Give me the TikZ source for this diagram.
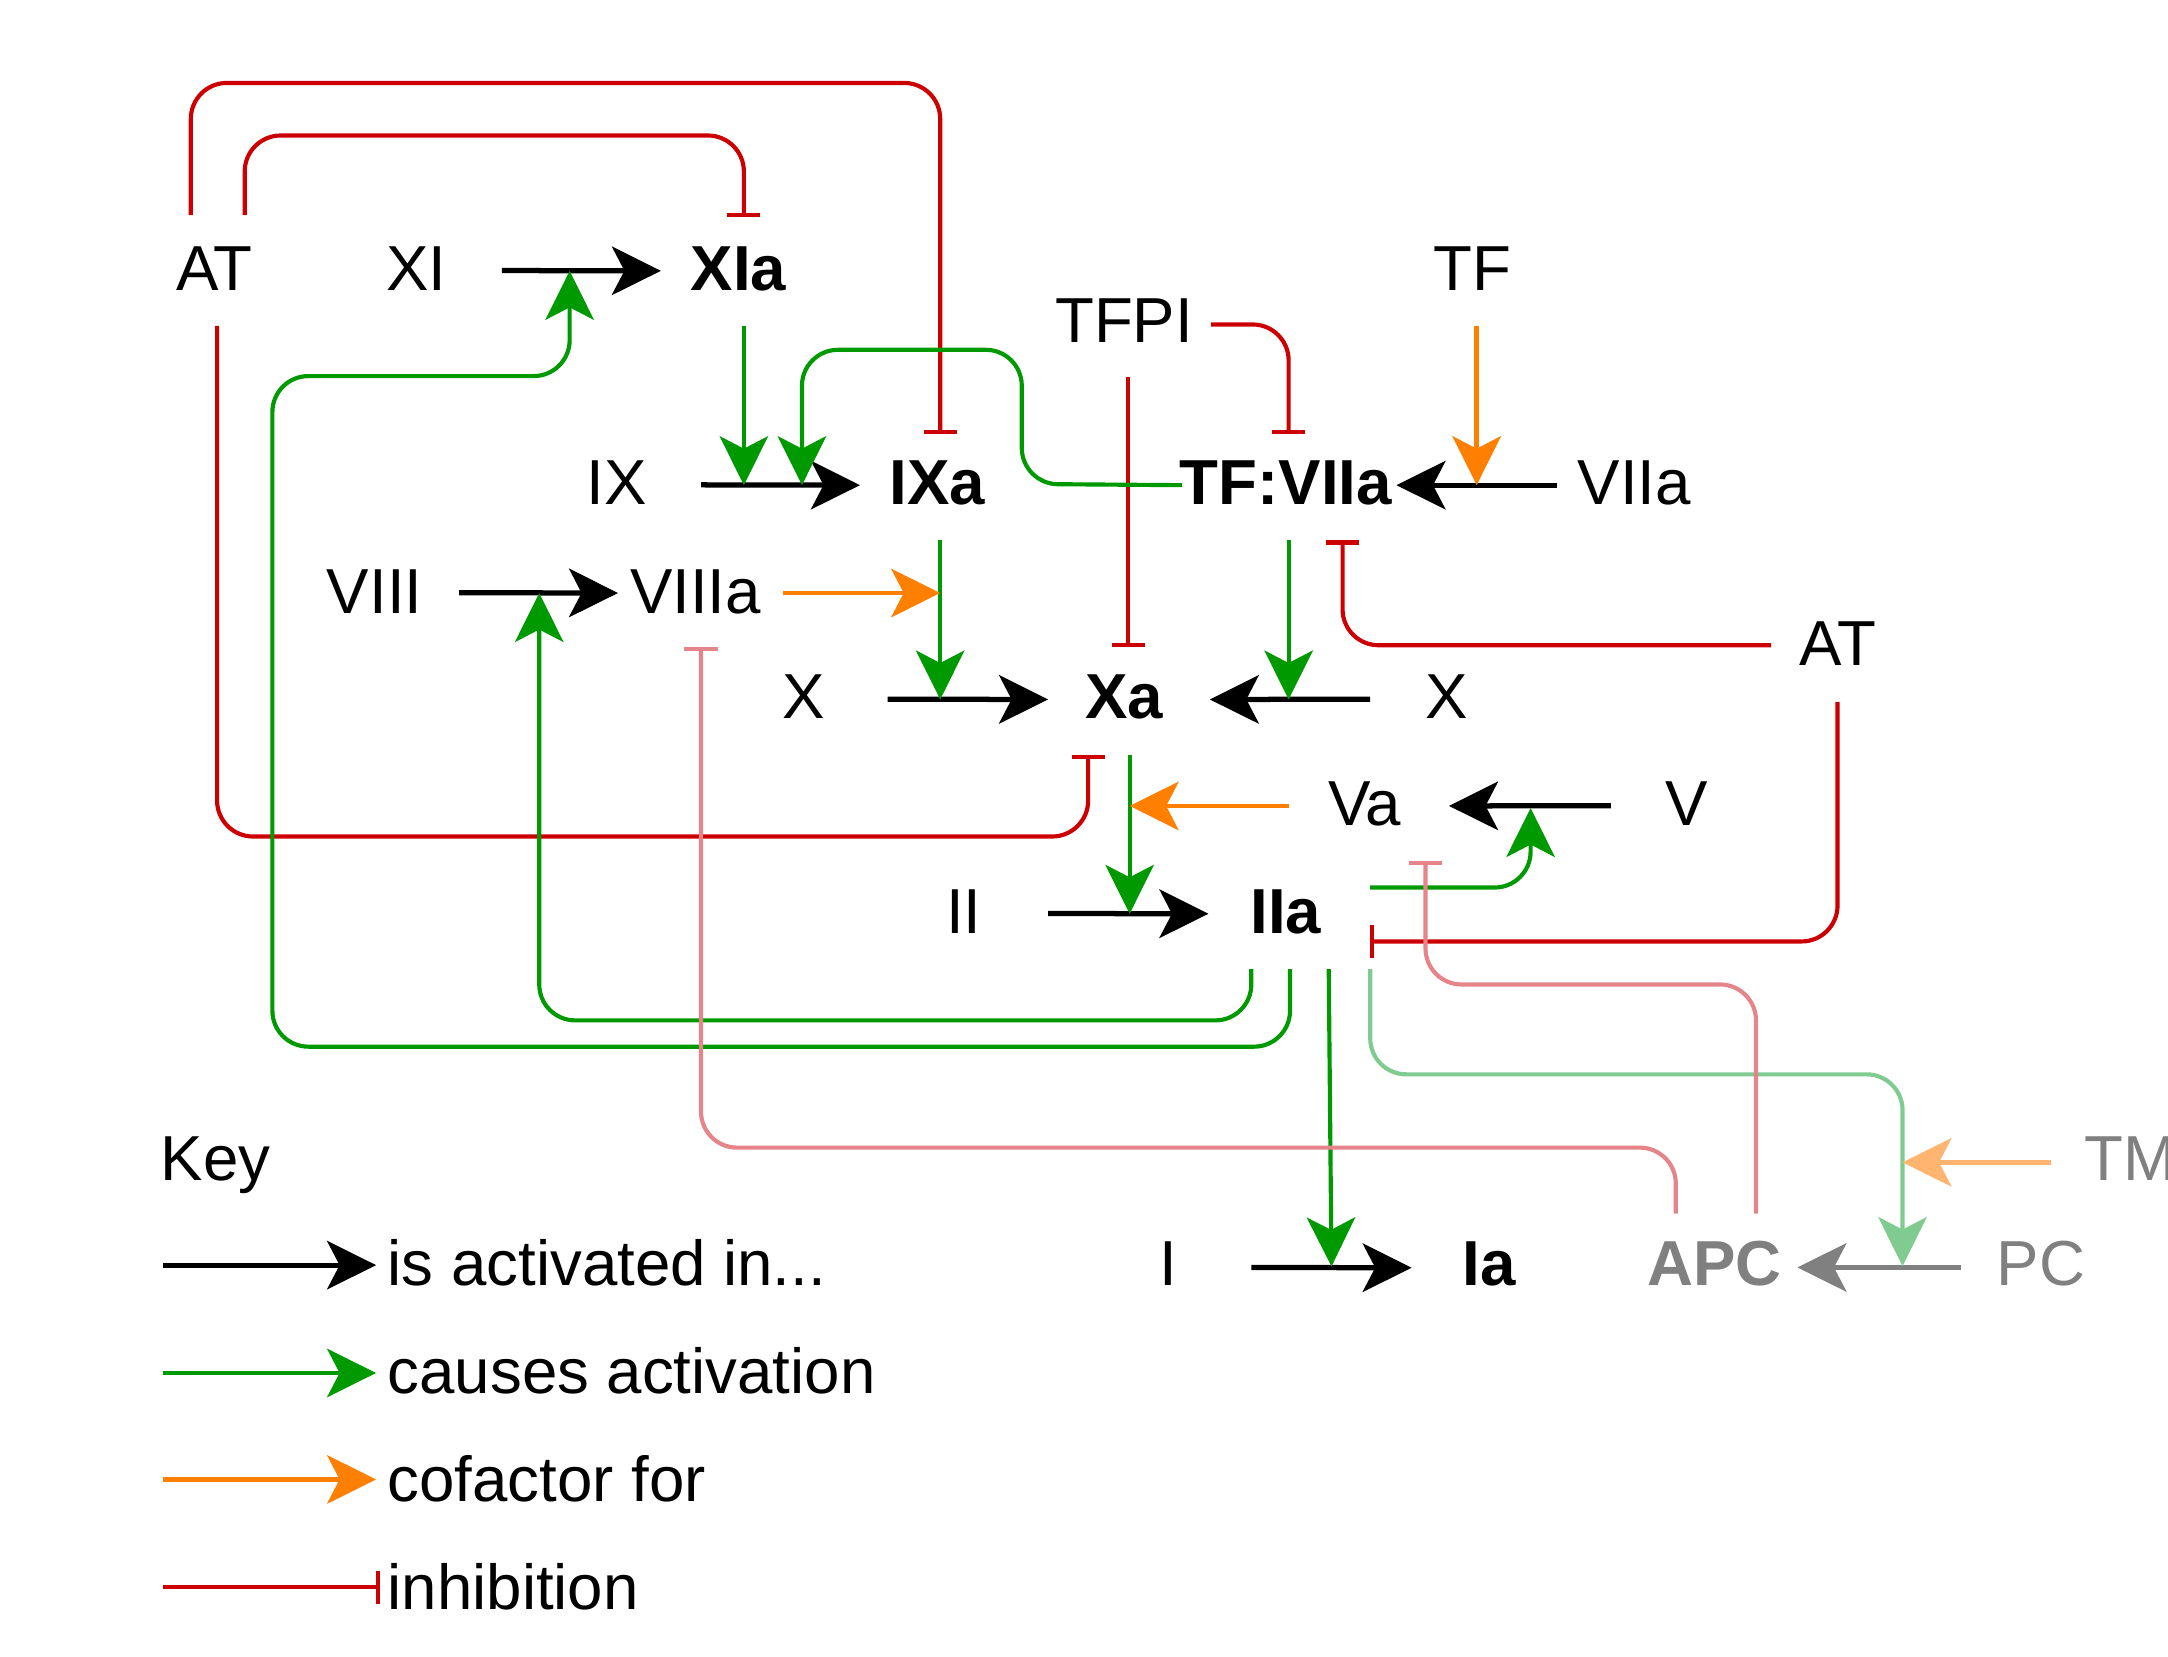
\documentclass[tikz,border=0pt]{standalone}
\usepackage{fontspec}
\setmainfont{Liberation Sans}
\usetikzlibrary{arrows.meta,calc}
\definecolor{cred}{HTML}{CC0000}
\definecolor{cgreen}{HTML}{009900}
\definecolor{corange}{HTML}{FF8000}
\definecolor{cpink}{HTML}{E5858A}
\definecolor{clgreen}{HTML}{80CC90}
\definecolor{clorange}{HTML}{FFB570}
\definecolor{cgray}{HTML}{808080}
\begin{document}
\begin{tikzpicture}[x=0.5pt,y=-0.5pt,
  lbl/.style={anchor=base,inner sep=0pt,font=\fontsize{23}{27}\selectfont},
  blbl/.style={anchor=base,inner sep=0pt,font=\fontsize{23}{27}\selectfont\bfseries},
  headtip/.style={-{Stealth[length=17.7pt,width=17.5pt,inset=4.5pt]}},
  act/.style={draw=black,line width=1.9pt,headtip},
  gact/.style={draw=cgray,line width=1.9pt,headtip},
  cause/.style={draw=cgreen,line width=1.5pt,headtip,rounded corners=13pt},
  lcause/.style={draw=clgreen,line width=1.5pt,headtip,rounded corners=13pt},
  cof/.style={draw=corange,line width=1.6pt,headtip},
  lcof/.style={draw=clorange,line width=1.6pt,headtip},
  inh/.style={draw=cred,line width=1.5pt,-{Bar[width=12pt,line width=1.5pt]},rounded corners=13pt},
  linh/.style={draw=cpink,line width=1.5pt,-{Bar[width=12pt,line width=1.5pt]},rounded corners=13pt}
]
\useasboundingbox (0,0) rectangle (1568,1198);
% nodes
\node[lbl] (AT1) at (155,210) {AT};
\node[lbl] (XI) at (301,210) {XI};
\node[blbl] (XIa) at (534,210) {XIa};
\node[lbl] (TF) at (1065,210) {TF};
\node[lbl] (TFPI) at (813,248) {TFPI};
\node[lbl] (IX) at (446,365) {IX};
\node[blbl] (IXa) at (678,365) {IXa};
\node[blbl] (TFVIIa) at (930,365) {TF:VIIa};
\node[lbl] (VIIa) at (1182,365) {VIIa};
\node[lbl] (VIII) at (271,444) {VIII};
\node[lbl] (VIIIa) at (503,444) {VIIIa};
\node[lbl] (AT2) at (1329,481) {AT};
\node[lbl] (X1) at (581,520) {X};
\node[blbl] (Xa) at (813,520) {Xa};
\node[lbl] (X2) at (1046,520) {X};
\node[lbl] (Va) at (987,597) {Va};
\node[lbl] (V) at (1220,597) {V};
\node[lbl] (II) at (697,675) {II};
\node[blbl] (IIa) at (930,675) {IIa};
\node[lbl,text=cgray] (TM) at (1541,854) {TM};
\node[lbl] (I) at (845,930) {I};
\node[blbl] (Ia) at (1077,930) {Ia};
\node[blbl,text=cgray] (APC) at (1240,930) {APC};
\node[lbl,text=cgray] (PC) at (1476,930) {PC};
\node[lbl,anchor=base west] (Key) at (116,854) {Key};
\node[lbl,anchor=base west] (L1) at (280,930) {is activated in...};
\node[lbl,anchor=base west] (L2) at (280,1008) {causes activation};
\node[lbl,anchor=base west] (L3) at (280,1086) {cofactor for};
\node[lbl,anchor=base west] (L4) at (280,1164) {inhibition};
% activation (black) arrows
\draw[act] ($(XI)+(62,1.5)$) -- ($(XIa)+(-56,1.5)$);
\draw[act] ($(IX)+(61,1.5)$) -- ($(IXa)+(-56,1.5)$);
\draw[act] ($(VIII)+(61,0.5)$) -- ($(VIIIa)+(-56,0.5)$);
\draw[act] ($(X1)+(61,1.5)$) -- ($(Xa)+(-55,1.5)$);
\draw[act] ($(X2)+(-55,1.5)$) -- ($(Xa)+(62,1.5)$);
\draw[act] ($(VIIa)+(-56,1.5)$) -- ($(TFVIIa)+(80,1.5)$);
\draw[act] ($(V)+(-55,1.5)$) -- ($(Va)+(61,1.5)$);
\draw[act] ($(II)+(61,1.5)$) -- ($(IIa)+(-56,1.5)$);
\draw[act] ($(I)+(60,2.5)$) -- ($(Ia)+(-56,2.5)$);
\draw[gact] ($(PC)+(-58,2.5)$) -- ($(APC)+(60,2.5)$);
% inhibitions from AT (left)
\draw[inh] ($(AT1)+(-17,-38.5)$) |- (680,60) -- ($(IXa)+(2,-35.5)$);
\draw[inh] ($(AT1)+(22,-38.5)$) |- (538,98) -- ($(XIa)+(4,-37.5)$);
\draw[inh] ($(AT1)+(2,41.5)$) |- (787,605) -- ($(Xa)+(-26,41.5)$);
% IIa feedback
\draw[cause] ($(IIa)+(3,41.5)$) -- (933,757) -- (197,757) -- (197,272) -- (412,272) -- ($(XIa)+(-122,1.5)$);
\draw[cause] ($(IIa)+(-25,41.5)$) -- (905,738) -- (390,738) -- ($(VIIIa)+(-113,0.5)$);
\draw[cause] ($(IIa)+(31,41.5)$) -- ($(Ia)+(-114,1.5)$);
\draw[lcause] ($(IIa)+(61,41.5)$) |- (1376,777) -- ($(APC)+(136,1.5)$);
\draw[cause] ($(IIa)+(61,-17.5)$) -| ($(Va)+(120,3)$);
% AT (right)
\draw[inh] ($(AT2)+(0,42.5)$) |- ($(IIa)+(61,21.5)$);
\draw[inh] ($(AT2)+(-48,1.5)$) -| ($(TFVIIa)+(41,41.5)$);
% TFPI
\draw[inh] ($(TFPI)+(63,2.5)$) -| ($(TFVIIa)+(2,-35.5)$);
\draw[inh] ($(TFPI)+(3,40.5)$) -- ($(Xa)+(3,-36.5)$);
% TF
\draw[cof] ($(TF)+(3,41.5)$) -- ($(TFVIIa)+(138,1.5)$);
% XIa, TF:VIIa -> IX
\draw[cause] ($(XIa)+(4,41.5)$) -- ($(IXa)+(-140,1.5)$);
\draw[cause] ($(TFVIIa)+(-75,1.5)$) -- (739,350) -- (739,253) -- (580,253) -- ($(IXa)+(-98,1.5)$);
% IXa, VIIIa, TF:VIIa -> X
\draw[cause] ($(IXa)+(2,41.5)$) -- ($(Xa)+(-133,1.5)$);
\draw[cof] ($(VIIIa)+(63,0.5)$) -- ($(VIIIa)+(177,0.5)$);
\draw[cause] ($(TFVIIa)+(2,41.5)$) -- ($(Xa)+(119,1.5)$);
% Xa, Va -> II
\draw[cause] ($(Xa)+(4,41.5)$) -- ($(IIa)+(-113,1.5)$);
\draw[cof] ($(Va)+(-55,1.5)$) -- ($(Va)+(-170,1.5)$);
% APC
\draw[linh] ($(APC)+(-28,-36.5)$) |- (507,830) -- ($(VIIIa)+(4,39.5)$);
\draw[linh] ($(APC)+(30,-36.5)$) |- (1031,712) -- ($(Va)+(44,41.5)$);
% TM
\draw[lcof] ($(TM)+(-58,2.5)$) -- ($(TM)+(-165,2.5)$);
% legend
\draw[act] ($(L1.base west)+(-162,-15)$) -- ($(L1.base west)+(-8,-15)$);
\draw[cause] ($(L2.base west)+(-162,-15)$) -- ($(L2.base west)+(-8,-15)$);
\draw[cof] ($(L3.base west)+(-162,-16)$) -- ($(L3.base west)+(-8,-16)$);
\draw[inh] ($(L4.base west)+(-162,-16)$) -- ($(L4.base west)+(-5,-16)$);
\end{tikzpicture}
\end{document}
